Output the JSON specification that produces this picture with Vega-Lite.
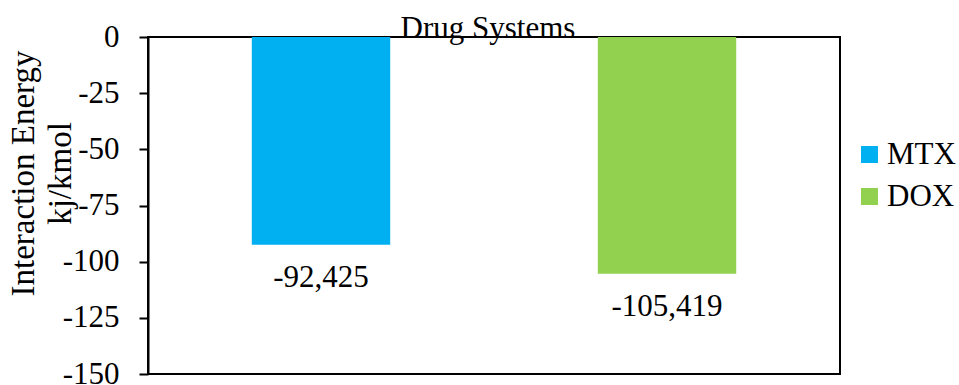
{
  "$schema": "https://vega.github.io/schema/vega-lite/v6.json",
  "width": 692,
  "height": 337,
  "autosize": {"type": "none"},
  "padding": {"left": 148, "top": 37, "right": 119, "bottom": 11},
  "background": "white",
  "config": {
    "font": "Liberation Serif",
    "view": {"stroke": "#000", "strokeWidth": 2},
    "locale": {"number": {"decimal": ",", "thousands": ".", "grouping": [3], "currency": ["", "€"], "minus": "-"}}
  },
  "title": {
    "text": "Drug Systems",
    "anchor": "middle",
    "offset": -24,
    "dx": -6,
    "fontSize": 31,
    "fontWeight": "normal",
    "color": "#000",
    "font": "Liberation Serif"
  },
  "data": {"values": [
    {"drug": "MTX", "energy": -92.425},
    {"drug": "DOX", "energy": -105.419}
  ]},
  "encoding": {
    "x": {"field": "drug", "type": "nominal", "sort": ["MTX", "DOX"], "axis": null,
          "scale": {"paddingInner": 0.6, "paddingOuter": 0.3}},
    "y": {"field": "energy", "type": "quantitative",
          "scale": {"domain": [-150, 0], "nice": false},
          "axis": {
            "values": [0, -25, -50, -75, -100, -125, -150],
            "grid": false,
            "domainColor": "#000", "domainWidth": 2,
            "tickColor": "#000", "tickWidth": 2, "tickSize": 9,
            "labelFontSize": 31, "labelColor": "#000", "labelPadding": 20,
            "labelFont": "Liberation Serif", "labelFlush": false, "labelOverlap": false, "labelBound": false,
            "title": ["Interaction Energy", "kj/kmol"],
            "titleFont": "Liberation Serif",
            "titleFontSize": 33, "titleFontWeight": "normal", "titleColor": "#000",
            "titleAngle": -90, "titleX": -115, "titleY": 136,
            "titleAlign": "center", "titleBaseline": "alphabetic", "titleLineHeight": 37
          }}
  },
  "layer": [
    {
      "mark": {"type": "bar"},
      "encoding": {
        "y2": {"datum": 0},
        "color": {"field": "drug", "type": "nominal",
          "scale": {"domain": ["MTX", "DOX"], "range": ["#00B0F0", "#92D050"]},
          "legend": {
            "title": null, "orient": "none", "legendX": 706, "legendY": 102,
            "symbolType": "square", "symbolSize": 289, "symbolStrokeWidth": 0,
            "labelFontSize": 31, "labelFont": "Liberation Serif", "labelColor": "#000",
            "labelOffset": 2, "rowPadding": 10, "padding": 0, "labelLimit": 0
          }}
      }
    },
    {
      "mark": {"type": "text", "baseline": "alphabetic", "dy": 42, "fontSize": 31, "color": "#000", "font": "Liberation Serif"},
      "encoding": {
        "text": {"field": "energy", "type": "quantitative", "format": ".3f"}
      }
    }
  ]
}
